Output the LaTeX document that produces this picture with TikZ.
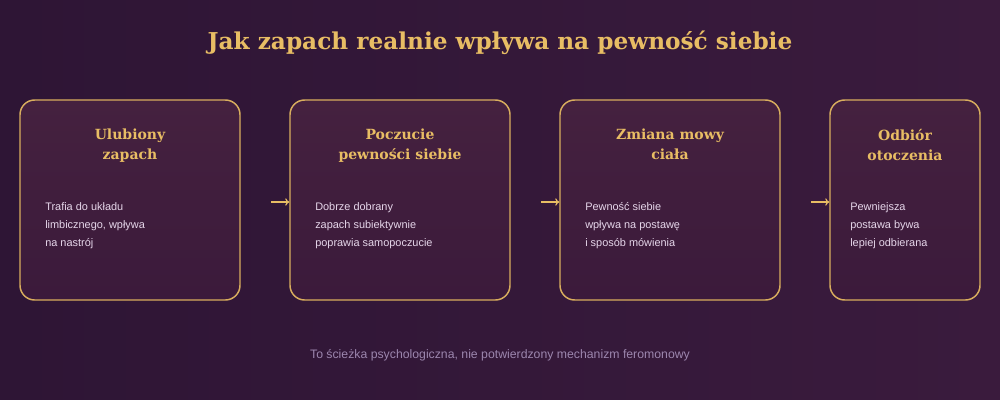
\documentclass[tikz,border=0pt]{standalone}
\usepackage{fontspec}
\setmainfont{DejaVu Serif}
\newfontfamily\opisfont{Liberation Sans}
\usetikzlibrary{positioning,arrows.meta}
\definecolor{tlo}{HTML}{2E1535}
\definecolor{tlodwa}{HTML}{3A1B3D}
\definecolor{ramka}{HTML}{D9AE5E}
\definecolor{zloto}{HTML}{E8BD64}
\definecolor{lawenda}{HTML}{E6D6EA}
\definecolor{stopka}{HTML}{9C86AE}
\definecolor{kartagora}{HTML}{45213F}
\definecolor{kartadol}{HTML}{3B1A3B}
\tikzset{krok/.style={
    draw=ramka,
    line width=1.1pt,
    rounded corners=11pt,
    top color=kartagora,
    bottom color=kartadol,
    minimum height=150pt,
    inner sep=0pt}}
\tikzset{tytul/.style={
    text=zloto,
    font=\fontsize{10.5pt}{15pt}\selectfont\bfseries,
    align=center,
    anchor=north,
    inner sep=0pt}}
\tikzset{opis/.style={
    text=lawenda,
    font=\opisfont\fontsize{8.2pt}{13.5pt}\selectfont,
    align=left,
    anchor=north west,
    inner sep=0pt}}
\tikzset{strzalka/.style={
    draw=zloto,
    line width=0.9pt,
    -{To[length=3pt,width=5.5pt]},
    shorten <=23pt}}

\begin{document}
\begin{tikzpicture}[x=0.75pt,y=-0.75pt]
  \useasboundingbox (0,0) rectangle (1000,400);
  \shade[left color=tlo,right color=tlodwa] (0,0) rectangle (1000,400);

  \node[text=zloto,font=\fontsize{17.4pt}{21pt}\selectfont\bfseries] (naglowek) at (500,43) {Jak zapach realnie wpływa na pewność siebie};

  \node[krok,minimum width=165pt] (ulubiony) at (130,200) {};
  \node[krok,minimum width=165pt] (pewnosc) at (400,200) {};
  \node[krok,minimum width=165pt] (zmiana) at (670,200) {};
  \node[krok,minimum width=112.5pt] (odbior) at (905,200) {};

	\node[tytul] (t1) at (130,129) {Ulubiony\\zapach};
	\node[tytul] (t2) at (400,129) {Poczucie\\pewności siebie};
	\node[tytul] (t3) at (670,129) {Zmiana mowy\\ciała};
	\node[tytul] (t4) at (905,129) {Odbiór\\otoczenia};

	\node[opis] (o1) at (45,202) {Trafia do układu\\limbicznego, wpływa\\na nastrój};
	\node[opis] (o2) at (315,202) {Dobrze dobrany\\zapach subiektywnie\\poprawia samopoczucie};
	\node[opis] (o3) at (585,202) {Pewność siebie\\wpływa na postawę\\i sposób mówienia};
	\node[opis] (o4) at (850,202) {Pewniejsza\\postawa bywa\\lepiej odbierana};

  \draw[strzalka] ([yshift=-1.5pt]ulubiony.east) -- ([yshift=-1.5pt]pewnosc.west);
  \draw[strzalka] ([yshift=-1.5pt]pewnosc.east) -- ([yshift=-1.5pt]zmiana.west);
  \draw[strzalka] ([yshift=-1.5pt]zmiana.east) -- ([yshift=-1.5pt]odbior.west);

  \node[text=stopka,font=\opisfont\fontsize{9.2pt}{11pt}\selectfont] (uwaga) at (500,355) {To ścieżka psychologiczna, nie potwierdzony mechanizm feromonowy};
\end{tikzpicture}
\end{document}
